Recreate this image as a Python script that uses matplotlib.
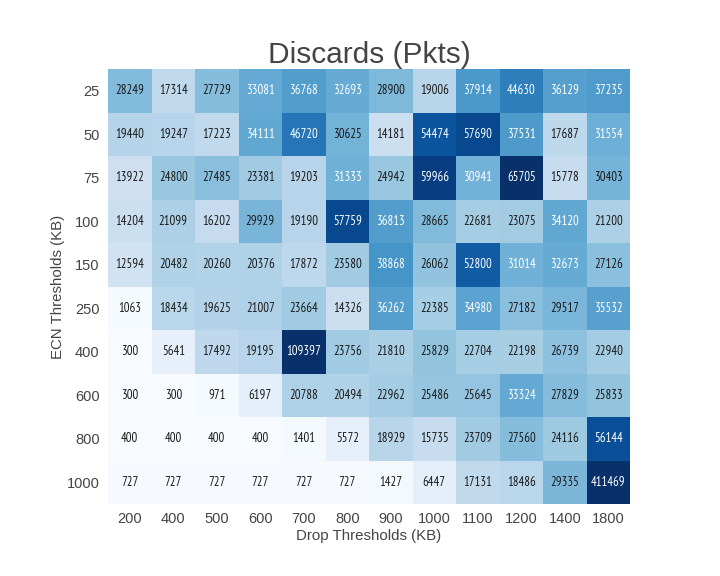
"""Discards heatmap: ECN threshold vs drop threshold."""
import matplotlib
matplotlib.use("Agg")
import matplotlib.pyplot as plt
import matplotlib.colors as mcolors
from matplotlib import font_manager
import numpy as np

ecn_labels = ["25", "50", "75", "100", "150", "250", "400", "600", "800", "1000"]
drop_labels = ["200", "400", "500", "600", "700", "800", "900", "1000", "1100", "1200", "1400", "1800"]

row_25 = [28249, 17314, 27729, 33081, 36768, 32693, 28900, 19006, 37914, 44630, 36129, 37235]
row_50 = [19440, 19247, 17223, 34111, 46720, 30625, 14181, 54474, 57690, 37531, 17687, 31554]
row_75 = [13922, 24800, 27485, 23381, 19203, 31333, 24942, 59966, 30941, 65705, 15778, 30403]
row_100 = [14204, 21099, 16202, 29929, 19190, 57759, 36813, 28665, 22681, 23075, 34120, 21200]
row_150 = [12594, 20482, 20260, 20376, 17872, 23580, 38868, 26062, 52800, 31014, 32673, 27126]
row_250 = [1063, 18434, 19625, 21007, 23664, 14326, 36262, 22385, 34980, 27182, 29517, 35532]
row_400 = [300, 5641, 17492, 19195, 109397, 23756, 21810, 25829, 22704, 22198, 26739, 22940]
row_600 = [300, 300, 971, 6197, 20788, 20494, 22962, 25486, 25645, 33324, 27829, 25833]
row_800 = [400, 400, 400, 400, 1401, 5572, 18929, 15735, 23709, 27560, 24116, 56144]
row_1000 = [727, 727, 727, 727, 727, 727, 1427, 6447, 17131, 18486, 29335, 411469]

data = np.array([row_25, row_50, row_75, row_100, row_150,
                 row_250, row_400, row_600, row_800, row_1000], dtype=float)

# pick a narrow, regular-weight face for the cell labels if one is installed
def is_regular(f):
    return f.weight in (400, "normal", "regular", "book") and f.style == "normal"

narrow = [f for f in font_manager.fontManager.ttflist
          if is_regular(f) and (f.stretch in ("condensed", "semi-condensed")
                                or "Narrow" in f.name or "Condensed" in f.name)]
narrow.sort(key=lambda f: (0 if "Narrow" in f.name or "Liberation" in f.name else 1,
                           0 if "Sans" in f.name else 1))
if narrow:
    annot_fp = font_manager.FontProperties(fname=narrow[0].fname, size=9.2)
else:
    annot_fp = font_manager.FontProperties(family="Liberation Sans", size=7.5)

# robust colour limits (2nd / 98th percentile)
vmin = np.percentile(data, 2)
vmax = np.percentile(data, 98)
cmap = plt.get_cmap("Blues")
norm = mcolors.Normalize(vmin=vmin, vmax=vmax)

grey = "#444444"
fig = plt.figure(figsize=(7.2, 5.76), dpi=100)
ax = fig.add_axes([0.15, 0.125, 0.725, 0.755])
ax.pcolormesh(data, cmap=cmap, norm=norm)
ax.set_xlim(0, data.shape[1])
ax.set_ylim(data.shape[0], 0)


def luminance(rgb):
    c = np.array(rgb[:3])
    c = np.where(c <= 0.03928, c / 12.92, ((c + 0.055) / 1.055) ** 2.4)
    return 0.2126 * c[0] + 0.7152 * c[1] + 0.0722 * c[2]


for i in range(data.shape[0]):
    for j in range(data.shape[1]):
        v = data[i, j]
        tc = "#1a1a1a" if luminance(cmap(norm(v))) > 0.408 else "white"
        ax.text(j + 0.5, i + 0.5, f"{int(v)}", ha="center", va="center",
                color=tc, fontproperties=annot_fp)

ax.set_xticks(np.arange(len(drop_labels)) + 0.5)
ax.set_xticklabels(drop_labels)
ax.set_yticks(np.arange(len(ecn_labels)) + 0.5)
ax.set_yticklabels(ecn_labels)
ax.tick_params(length=0, labelsize=10.5, labelcolor=grey, pad=6)
for lab in ax.get_xticklabels() + ax.get_yticklabels():
    lab.set_family("Liberation Sans")
for s in ax.spines.values():
    s.set_visible(False)

ax.set_xlabel("Drop Thresholds (KB)", fontsize=10.8, color=grey, family="Liberation Sans", labelpad=2)
ax.set_ylabel("ECN Thresholds (KB)", fontsize=10.8, color=grey, family="Liberation Sans", labelpad=1)
ax.set_title("Discards (Pkts)", fontsize=21.5, color=grey, family="Liberation Sans", pad=2)

fig.savefig("out.png", dpi=100)
